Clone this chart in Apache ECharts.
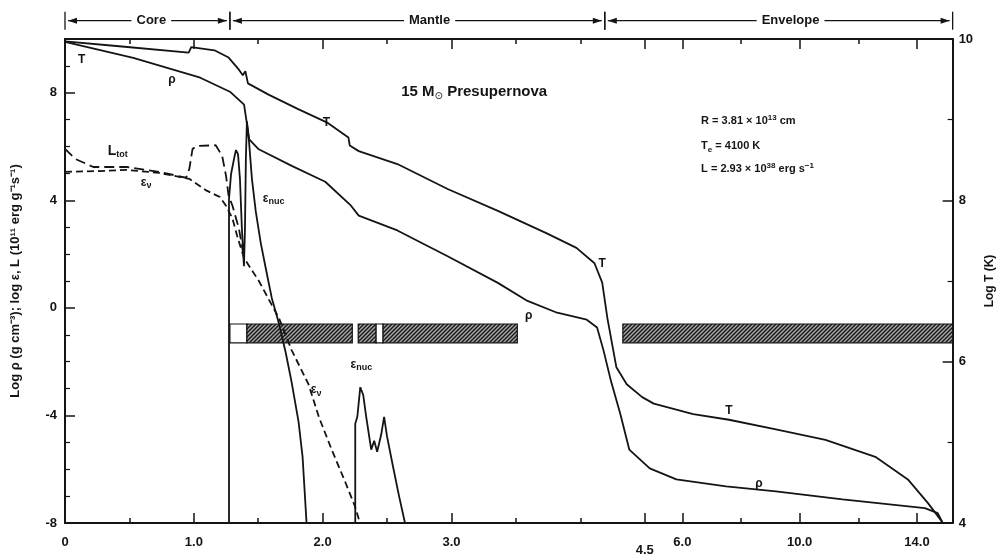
<!DOCTYPE html>
<html>
<head>
<meta charset="utf-8">
<script src="https://cdn.jsdelivr.net/npm/echarts@6/dist/echarts.min.js"></script>
<style>
  html, body { margin: 0; padding: 0; background: #fff; }
  #chart { width: 1004px; height: 557px; }
</style>
</head>
<body>
<div id="chart"></div>
<script>
// mass axis is broken at 4.5 Msun: linear before, compressed after
var massBreaks = [0, 4.5, 6, 14, 15.22];
var axisBreaks = [0, 4.5, 4.792, 6.613, 6.89];

// tick positions (Msun)
var majorTicks = [0, 1, 2, 3, 4.5, 6, 10, 14];
var minorTicks = [0.5, 1.5, 2.5, 3.5, 4, 8, 12];

// log T (K), right axis
var tempData = [
  [0, 9.97], [0.42, 9.91], [0.96, 9.83], [0.98, 9.90], [1.16, 9.86], [1.27, 9.77],
  [1.35, 9.62], [1.38, 9.55], [1.40, 9.60], [1.42, 9.45], [1.58, 9.31], [1.81, 9.13],
  [2.04, 8.96], [2.20, 8.78], [2.21, 8.68], [2.28, 8.61], [2.58, 8.45], [2.97, 8.14],
  [3.36, 7.87], [3.74, 7.59], [3.97, 7.41], [4.11, 7.22], [4.17, 6.98], [4.21, 6.54],
  [4.28, 5.93], [4.36, 5.72], [4.48, 5.56], [4.86, 5.48], [6.37, 5.35], [7.59, 5.28],
  [9.19, 5.16], [10.88, 5.03], [12.58, 4.82], [13.69, 4.54], [14.37, 4.25], [14.85, 4.02]
];

// log rho (g cm^-3), left axis
var rhoData = [
  [0, 9.89], [0.53, 9.30], [1.05, 8.56], [1.28, 8.04], [1.39, 7.56], [1.43, 6.27],
  [1.50, 5.91], [1.76, 5.28], [2.02, 4.69], [2.22, 3.80], [2.28, 3.43], [2.58, 2.88],
  [2.97, 1.92], [3.36, 0.93], [3.59, 0.26], [3.82, -0.18], [4.05, -0.44], [4.13, -0.73],
  [4.18, -1.58], [4.24, -2.76], [4.31, -3.94], [4.38, -5.27], [4.70, -5.97], [5.76, -6.38],
  [7.49, -6.64], [9.19, -6.82], [11.46, -7.12], [14.27, -7.45], [14.71, -7.63], [14.88, -8.0]
];

// log L_tot, left axis
var lumData = [
  [0, 5.91], [0.08, 5.54], [0.22, 5.24], [0.48, 5.24], [0.73, 5.06], [0.94, 4.84],
  [0.965, 5.17], [0.99, 5.91], [1.02, 6.02], [1.17, 6.05], [1.22, 5.65], [1.25, 4.91],
  [1.27, 4.17], [1.30, 3.80], [1.35, 2.95], [1.39, 1.85]
];

// log eps_nu, left axis
var nuData = [
  [0, 5.06], [0.27, 5.09], [0.48, 5.13], [0.73, 5.02], [0.965, 4.80], [1.10, 4.36],
  [1.20, 4.13], [1.25, 3.80], [1.30, 3.32], [1.335, 2.70], [1.39, 1.85], [1.505, 1.00],
  [1.605, 0.11], [1.66, -0.37], [1.76, -1.58], [1.89, -2.84], [1.97, -4.05], [2.07, -5.27],
  [2.18, -6.53], [2.25, -7.37], [2.29, -8.0]
];

// log eps_nuc, left axis (inner burning shells)
var nucInnerData = [
  [1.273, -8], [1.273, 4.06], [1.289, 4.98], [1.312, 5.54], [1.327, 5.87], [1.343, 5.72],
  [1.358, 4.80], [1.373, 2.95], [1.389, 1.55], [1.397, 2.95], [1.404, 5.54], [1.412, 6.94],
  [1.427, 6.27], [1.451, 4.80], [1.481, 3.58], [1.52, 2.40], [1.566, 1.29], [1.605, 0.37],
  [1.659, -0.55], [1.713, -1.66], [1.759, -2.76], [1.813, -4.24], [1.844, -5.53], [1.875, -8.0]
];
var nucOuterData = [
  [2.253, -8], [2.253, -4.31], [2.269, -4.05], [2.292, -2.95], [2.315, -3.24], [2.338, -4.05],
  [2.377, -5.27], [2.40, -4.94], [2.423, -5.35], [2.454, -4.72], [2.477, -4.05], [2.50, -4.79],
  [2.546, -5.9], [2.593, -7.0], [2.639, -8.0]
];

// convective zones
var zoneStart = [1.28, 1.412, 2.276, 2.415, 2.469, 4.33];
var zoneEnd = [1.412, 2.23, 2.415, 2.469, 3.511, 15.22];
var zoneHatched = [false, true, true, false, true, true];
var zoneTop = -0.6, zoneBottom = -1.3;

// structure brackets along the top
var regionNames = ['Core', 'Mantle', 'Envelope'];
var regionStart = [0, 1.28, 4.19];
var regionEnd = [1.28, 4.19, 15.22];
var regionLabelAt = [0.67, 2.83, 9.69];

// curve annotations [mass, left value, text]
var annotations = [
  [0.13, 9.23, 'T'], [0.83, 8.49, 'ρ'], [2.03, 6.90, 'T'],
  [0.41, 5.83, '{b|L}{s|tot}'], [0.63, 4.65, 'ε{s|ν}'], [1.62, 4.06, 'ε{s|nuc}'],
  [3.60, -0.29, 'ρ'], [4.17, 1.63, 'T'], [1.95, -3.06, 'ε{s|ν}'],
  [2.30, -2.10, 'ε{s|nuc}'], [7.59, -3.83, 'T'], [8.61, -6.53, 'ρ']
];

function mapPiecewise(v, from, to) {
  for (var i = 1; i < from.length; i++) {
    if (v <= from[i] || i === from.length - 1) {
      var f = (v - from[i - 1]) / (from[i] - from[i - 1]);
      return to[i - 1] + f * (to[i] - to[i - 1]);
    }
  }
}
function toU(m) { return mapPiecewise(m, massBreaks, axisBreaks); }
function fromU(u) { return mapPiecewise(u, axisBreaks, massBreaks); }
var U_MAX = axisBreaks[axisBreaks.length - 1];

var FONT = 'Liberation Sans, Arial, sans-serif';
var INK = '#141414';

// diagonal hatching for the convective zones
var hatch = document.createElement('canvas');
hatch.width = 4; hatch.height = 4;
var hc = hatch.getContext('2d');
hc.fillStyle = '#a4a4a4';
hc.fillRect(0, 0, 4, 4);
hc.strokeStyle = '#151515';
hc.lineWidth = 1.3;
hc.beginPath();
hc.moveTo(0, 4); hc.lineTo(4, 0);
hc.moveTo(-2, 2); hc.lineTo(2, -2);
hc.moveTo(2, 6); hc.lineTo(6, 2);
hc.stroke();

function lineSeries(data, yIdx, dash) {
  return {
    type: 'line',
    xAxisIndex: 0,
    yAxisIndex: yIdx,
    data: data.map(function (p) { return [toU(p[0]), p[1]]; }),
    symbol: 'none',
    clip: false,
    lineStyle: { color: INK, width: 1.8, type: dash || 'solid' },
    animation: false
  };
}

function massAxis(position, ticks, len, withLabels, withLine) {
  var vals = ticks.map(toU);
  return {
    type: 'value',
    position: position,
    min: 0,
    max: U_MAX,
    axisLine: { show: withLine, onZero: false, lineStyle: { color: INK, width: 2 } },
    axisTick: { show: true, inside: true, length: len, customValues: vals, lineStyle: { color: INK, width: 1.5 } },
    axisLabel: {
      show: withLabels,
      customValues: vals,
      margin: 13,
      color: INK,
      fontFamily: FONT,
      fontWeight: 'bold',
      fontSize: 13,
      formatter: function (u) {
        var m = Math.round(fromU(u) * 100) / 100;
        if (m === 0) return '0';
        if (Math.abs(m - 4.5) < 0.01) return '{low|4.5}';
        return m.toFixed(1);
      },
      rich: { low: { padding: [8, 0, 0, 0], fontFamily: FONT, fontWeight: 'bold', fontSize: 13, color: INK } }
    },
    splitLine: { show: false }
  };
}

var myChart = echarts.init(document.getElementById('chart'));

var option = {
  backgroundColor: '#fff',
  animation: false,
  grid: { left: 65, right: 46, top: 39, bottom: 30 },
  xAxis: [
    massAxis('bottom', majorTicks, 10, true, true),
    massAxis('bottom', minorTicks, 5, false, false),
    massAxis('top', majorTicks, 10, false, true),
    massAxis('top', minorTicks, 5, false, false)
  ],
  yAxis: [
    {
      type: 'value', position: 'left', min: -8, max: 10, interval: 4,
      axisLine: { show: true, onZero: false, lineStyle: { color: INK, width: 2 } },
      axisTick: { show: true, inside: true, length: 10, lineStyle: { color: INK, width: 1.5 } },
      minorTick: { show: true, splitNumber: 4, length: 5, lineStyle: { color: INK, width: 1.2 } },
      axisLabel: {
        color: INK, fontFamily: FONT, fontWeight: 'bold', fontSize: 13, margin: 8,
        formatter: function (v) { return v === 10 ? '' : String(v); }
      },
      splitLine: { show: false },
      name: 'Log ρ (g cm⁻³); log ε, L (10¹¹ erg g⁻¹s⁻¹)',
      nameLocation: 'middle', nameRotate: 90, nameGap: 43,
      nameTextStyle: { color: INK, fontFamily: FONT, fontWeight: 'bold', fontSize: 13 }
    },
    {
      type: 'value', position: 'right', min: 4, max: 10, interval: 2,
      axisLine: { show: true, onZero: false, lineStyle: { color: INK, width: 2 } },
      axisTick: { show: true, inside: true, length: 10, lineStyle: { color: INK, width: 1.5 } },
      minorTick: { show: true, splitNumber: 2, length: 5, lineStyle: { color: INK, width: 1.2 } },
      axisLabel: { color: INK, fontFamily: FONT, fontWeight: 'bold', fontSize: 13, margin: 6 },
      splitLine: { show: false },
      name: 'Log T (K)',
      nameLocation: 'middle', nameRotate: 90, nameGap: 31,
      nameTextStyle: { color: INK, fontFamily: FONT, fontWeight: 'bold', fontSize: 12 }
    }
  ],
  series: [
    lineSeries(tempData, 1),
    lineSeries(rhoData, 0),
    lineSeries(lumData, 0, [10, 5]),
    lineSeries(nuData, 0, [7, 4]),
    lineSeries(nucInnerData, 0),
    lineSeries(nucOuterData, 0),
    {
      // convective zones
      type: 'custom',
      xAxisIndex: 0, yAxisIndex: 0,
      clip: false,
      data: zoneStart.map(function (s, i) { return [toU(s), toU(zoneEnd[i]), i]; }),
      renderItem: function (params, api) {
        var i = api.value(2);
        var p0 = api.coord([api.value(0), zoneTop]);
        var p1 = api.coord([api.value(1), zoneBottom]);
        return {
          type: 'rect',
          shape: { x: p0[0], y: p0[1], width: p1[0] - p0[0], height: p1[1] - p0[1] },
          style: {
            fill: zoneHatched[i] ? { image: hatch, repeat: 'repeat' } : '#fff',
            stroke: INK, lineWidth: 1.2
          }
        };
      }
    },
    {
      // Core / Mantle / Envelope brackets
      type: 'custom',
      xAxisIndex: 0, yAxisIndex: 0,
      clip: false,
      data: regionNames.map(function (n, i) { return [toU(regionStart[i]), toU(regionEnd[i]), toU(regionLabelAt[i]), i]; }),
      renderItem: function (params, api) {
        var i = api.value(3);
        var a = api.coord([api.value(0), 10.68]);
        var b = api.coord([api.value(1), 10.68]);
        var c = api.coord([api.value(2), 10.68]);
        var y = a[1];
        var x0 = a[0] + 3, x1 = b[0] - 3;
        var ls = { stroke: INK, lineWidth: 1.3 };
        return {
          type: 'group',
          children: [
            { type: 'line', shape: { x1: x0, y1: y, x2: x1, y2: y }, style: ls },
            { type: 'line', shape: { x1: a[0], y1: y - 9, x2: a[0], y2: y + 9 }, style: ls },
            { type: 'line', shape: { x1: b[0], y1: y - 9, x2: b[0], y2: y + 9 }, style: ls },
            { type: 'polygon', shape: { points: [[x0, y], [x0 + 9, y - 3], [x0 + 9, y + 3]] }, style: { fill: INK } },
            { type: 'polygon', shape: { points: [[x1, y], [x1 - 9, y - 3], [x1 - 9, y + 3]] }, style: { fill: INK } },
            {
              type: 'text', x: c[0], y: y,
              style: {
                text: regionNames[i], align: 'center', verticalAlign: 'middle',
                fontFamily: FONT, fontWeight: 'bold', fontSize: 13, fill: INK,
                backgroundColor: '#fff', padding: [0, 5]
              }
            }
          ]
        };
      }
    },
    {
      // curve labels
      type: 'custom',
      xAxisIndex: 0, yAxisIndex: 0,
      clip: false,
      data: annotations.map(function (a, i) { return [toU(a[0]), a[1], i]; }),
      renderItem: function (params, api) {
        var p = api.coord([api.value(0), api.value(1)]);
        return {
          type: 'text', x: p[0], y: p[1],
          style: {
            text: annotations[api.value(2)][2], align: 'center', verticalAlign: 'middle',
            fontFamily: FONT, fontWeight: 'bold', fontSize: 12, fill: INK,
            rich: {
              b: { fontFamily: FONT, fontWeight: 'bold', fontSize: 14, fill: INK },
              s: { fontFamily: FONT, fontWeight: 'bold', fontSize: 9, fill: INK, padding: [6, 0, 0, 0] }
            }
          }
        };
      }
    },
    {
      // title and stellar parameters
      type: 'custom',
      xAxisIndex: 0, yAxisIndex: 0,
      clip: false,
      data: [[toU(2.61), 8.05, 0], [toU(6.64), 6.94, 1], [toU(6.64), 6.02, 2], [toU(6.64), 5.17, 3]],
      renderItem: function (params, api) {
        var texts = [
          '{t|15 M}{sun|⊙}{t| Presupernova}',
          'R = 3.81 × 10{sup|13} cm',
          'T{sub|e} = 4100 K',
          'L = 2.93 × 10{sup|38} erg s{sup|−1}'
        ];
        var p = api.coord([api.value(0), api.value(1)]);
        return {
          type: 'text', x: p[0], y: p[1],
          style: {
            text: texts[api.value(2)], align: 'left', verticalAlign: 'middle',
            fontFamily: FONT, fontWeight: 'bold', fontSize: 11, fill: INK,
            rich: {
              t: { fontFamily: FONT, fontWeight: 'bold', fontSize: 15, fill: INK },
              sun: { fontFamily: 'DejaVu Sans', fontSize: 10, fill: INK, padding: [10, 0, 0, 0] },
              sup: { fontFamily: FONT, fontWeight: 'bold', fontSize: 8, fill: INK, padding: [0, 0, 7, 0] },
              sub: { fontFamily: FONT, fontWeight: 'bold', fontSize: 8, fill: INK, padding: [7, 0, 0, 0] }
            }
          }
        };
      }
    }
  ]
};

myChart.setOption(option);
</script>
</body>
</html>
